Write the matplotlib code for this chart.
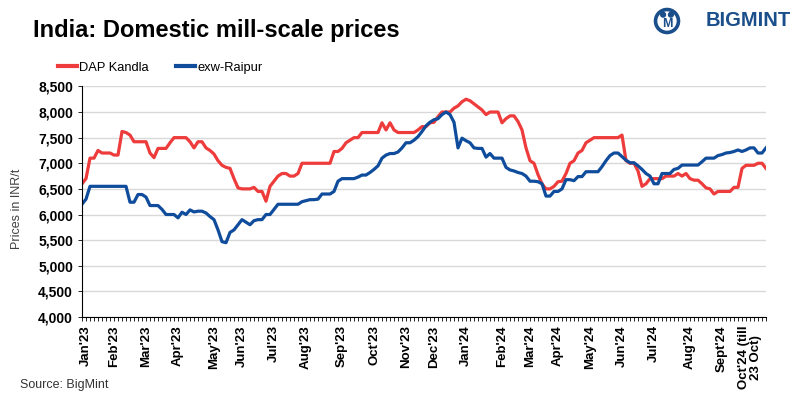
import matplotlib
matplotlib.use("Agg")
import matplotlib.pyplot as plt
from matplotlib.patches import Circle

plt.rcParams['font.family'] = ['Liberation Sans', 'DejaVu Sans']

# prices in INR/t, roughly twice a week, Jan'23 .. 23 Oct'24
dap_kandla = [
    6600, 6700, 7100, 7100, 7250, 7200, 7200, 7200, 7160, 7160,
    7620, 7600, 7550, 7420, 7420, 7420, 7420, 7200, 7110, 7290,
    7290, 7290, 7400, 7500, 7500, 7500, 7500, 7420, 7300, 7420,
    7420, 7300, 7250, 7180, 7050, 6960, 6920, 6900, 6700, 6520,
    6500, 6500, 6500, 6530, 6450, 6450, 6260, 6550, 6650, 6750,
    6800, 6800, 6750, 6750, 6800, 7000, 7000, 7000, 7000, 7000,
    7000, 7000, 7000, 7230, 7230, 7290, 7400, 7450, 7500, 7500,
    7600, 7600, 7600, 7600, 7600, 7790, 7650, 7790, 7650, 7600,
    7600, 7600, 7600, 7600, 7650, 7715, 7715, 7790, 7800, 7910,
    8000, 8000, 8000, 8075, 8120, 8200, 8250, 8220, 8160, 8100,
    8040, 7950, 8000, 8000, 8000, 7790, 7870, 7925, 7925, 7815,
    7650, 7300, 7050, 7000, 6780, 6600, 6500, 6500, 6550, 6640,
    6650, 6800, 7000, 7050, 7200, 7250, 7400, 7450, 7500, 7500,
    7500, 7500, 7500, 7500, 7500, 7550, 7050, 7000, 7000, 6850,
    6550, 6600, 6700, 6700, 6700, 6700, 6750, 6750, 6750, 6800,
    6750, 6800, 6700, 6670, 6670, 6600, 6520, 6500, 6400, 6450,
    6450, 6450, 6450, 6530, 6530, 6900, 6960, 6960, 6960, 7000,
    7000, 6900,
]

exw_raipur = [
    6200, 6300, 6550, 6550, 6550, 6550, 6550, 6550, 6550, 6550,
    6550, 6550, 6240, 6240, 6390, 6390, 6340, 6175, 6175, 6175,
    6100, 6000, 6000, 6000, 5935, 6045, 6000, 6090, 6050, 6065,
    6065, 6030, 5960, 5900, 5700, 5470, 5450, 5650, 5700, 5800,
    5900, 5850, 5800, 5880, 5900, 5900, 6000, 6000, 6100, 6200,
    6200, 6200, 6200, 6200, 6200, 6250, 6270, 6290, 6290, 6300,
    6400, 6400, 6400, 6450, 6650, 6700, 6700, 6700, 6700, 6730,
    6770, 6770, 6820, 6880, 6950, 7100, 7160, 7190, 7190, 7220,
    7300, 7400, 7400, 7450, 7520, 7620, 7730, 7800, 7850, 7870,
    7950, 8000, 7950, 7800, 7300, 7490, 7440, 7400, 7300, 7290,
    7290, 7120, 7190, 7100, 7100, 7100, 6920, 6870, 6850, 6820,
    6800, 6750, 6650, 6650, 6640, 6600, 6360, 6360, 6450, 6450,
    6500, 6680, 6680, 6660, 6740, 6740, 6835, 6835, 6835, 6835,
    6935, 7050, 7150, 7200, 7200, 7130, 7060, 7010, 7010, 6950,
    6880, 6800, 6750, 6600, 6600, 6800, 6800, 6800, 6880, 6900,
    6965, 6965, 6965, 6965, 6965, 7030, 7100, 7100, 7100, 7150,
    7170, 7200, 7210, 7230, 7260, 7230, 7260, 7300, 7300, 7200,
    7200, 7300,
]

month_labels = ["Jan'23", "Feb'23", "Mar'23", "Apr'23", "May'23", "Jun'23",
                "Jul'23", "Aug'23", "Sep'23", "Oct'23", "Nov'23", "Dec'23",
                "Jan'24", "Feb'24", "Mar'24", "Apr'24", "May'24", "Jun'24",
                "Jul'24", "Aug'24", "Sept'24", "Oct'24 (till\n23 Oct)"]
month_start = [1, 8, 16, 24, 33, 40, 48, 56, 65, 73, 81, 88,
               96, 105, 112, 119, 127, 135, 143, 152, 160, 167]

n = len(dap_kandla)
x = list(range(n))

fig = plt.figure(figsize=(8.05, 3.99), dpi=100)
ax = fig.add_axes([82/805, 82/399, 684/805, 230.6/399])

ax.plot(x, dap_kandla, color='#ee3b3b', lw=2.3, label='DAP Kandla')
ax.plot(x, exw_raipur, color='#0f4c9c', lw=2.3, label='exw-Raipur')

ax.set_xlim(0, n - 1)
ax.set_ylim(4000, 8500)
yt = list(range(4000, 8501, 500))
ax.set_yticks(yt)
ax.set_yticklabels([f'{v:,}' for v in yt], fontsize=10, fontweight='bold')
ax.grid(axis='y', color='#d9d9d9', lw=1)
ax.set_axisbelow(True)
for s in ['top', 'right']:
    ax.spines[s].set_visible(False)
ax.spines['left'].set_linewidth(0.8)
ax.spines['bottom'].set_linewidth(0.8)

labels = [''] * n
for p, l in zip(month_start, month_labels):
    labels[p] = l
ax.set_xticks(x)
ax.set_xticklabels(labels, rotation=90, fontsize=9.5, fontweight='bold',
                   va='top', ha='center', linespacing=0.95)
ax.tick_params(axis='x', length=3, width=0.6, pad=3)
ax.tick_params(axis='y', length=3, width=0.6, pad=3.5)

ax.set_ylabel('Prices in INR/t', fontsize=9, color='#404040')
ax.yaxis.set_label_coords(-0.086, 0.47)

fig.text(33/805, 1 - 30/399, 'India: Domestic mill-scale prices',
         fontsize=17, fontweight='bold', va='center', ha='left')

leg = fig.legend(loc='center left', bbox_to_anchor=(58/805, 1 - 68/399), ncol=2,
                 frameon=False, fontsize=9.3, handlelength=1.5, handletextpad=0.15,
                 columnspacing=2.1, borderpad=0, borderaxespad=0)
for h in leg.get_lines():
    h.set_linewidth(3)

fig.text(20/805, 1 - 385/399, 'Source: BigMint', fontsize=9, color='#333333',
         va='center', ha='left')

# logo
logo = '#1a4f8b'
lax = fig.add_axes([653/805, 1 - 35/399, 28/805, 28/399])
lax.set_xlim(-1, 1)
lax.set_ylim(-1, 1)
lax.set_aspect('equal')
lax.axis('off')
lax.add_patch(Circle((0, 0), 0.82, fill=False, ec=logo, lw=2.6))
lax.add_patch(Circle((-0.28, 0.45), 0.17, color=logo))
lax.add_patch(Circle((0.28, 0.45), 0.17, color=logo))
lax.text(0, -0.2, 'M', fontsize=9, fontweight='bold', color=logo,
         ha='center', va='center')
fig.text(706/805, 1 - 20/399, 'BIGMINT', fontsize=14.5, fontweight='bold', color=logo,
         ha='left', va='center')

fig.savefig('out.png', dpi=100)
